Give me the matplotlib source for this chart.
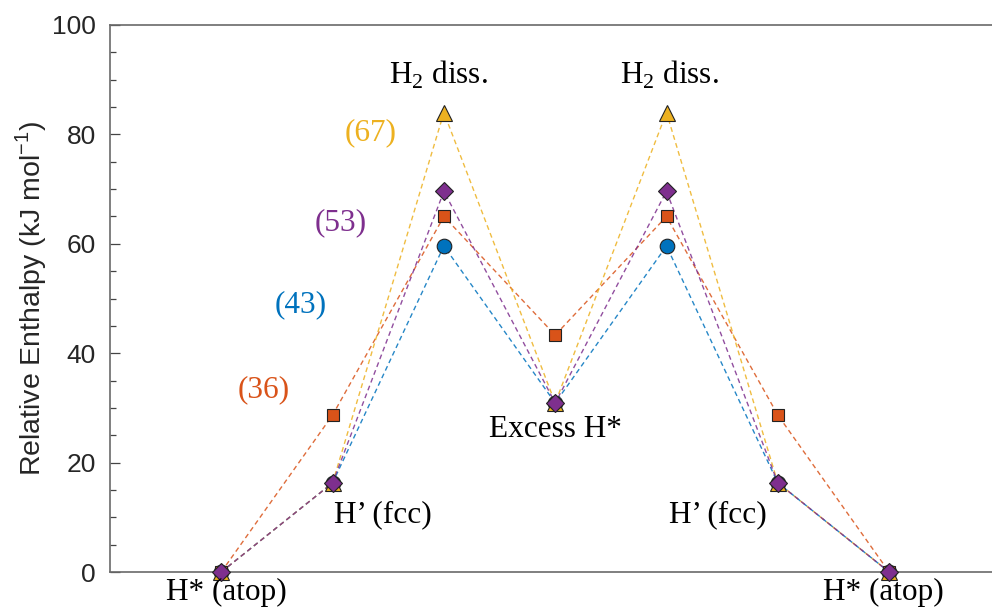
import matplotlib
matplotlib.use("Agg")
import matplotlib.pyplot as plt
from matplotlib.ticker import MultipleLocator

plt.rcParams['mathtext.fontset'] = 'custom'
plt.rcParams['mathtext.rm'] = 'Liberation Serif'
plt.rcParams['mathtext.sf'] = 'Liberation Sans'

# Data
steps = [1, 2, 3, 4, 5, 6, 7]
step_labels = ["H* (atop)", "H\u2019 (fcc)", "H$_2$ diss.", "Excess H*", "H$_2$ diss.", "H\u2019 (fcc)", "H* (atop)"]
series_names = ["(43)", "(36)", "(67)", "(53)"]
blue_43 = [0, 16.3, 59.6, 30.9, 59.6, 16.3, 0]
orange_36 = [0, 28.7, 65.0, 43.3, 65.0, 28.7, 0]
yellow_67 = [0, 16.3, 84.0, 30.9, 84.0, 16.3, 0]
purple_53 = [0, 16.3, 69.6, 30.9, 69.6, 16.3, 0]

colors = {"blue": "#0072BD", "orange": "#D95319", "yellow": "#EDB120", "purple": "#7E2F8E"}

fig = plt.figure(figsize=(9.92, 6.07), dpi=100)
ax = fig.add_axes([110/992, 35/607, (1000.4-110)/992, (572-25)/607])

def plot_series(vals, col, marker, ms):
    ax.plot(steps, vals, linestyle=(0, (3.5, 2.5)), color=col, lw=1.0, alpha=0.85,
            marker=None, zorder=2)
    ax.plot(steps, vals, linestyle='none', marker=marker, markersize=ms,
            markerfacecolor=col, markeredgecolor='#222222', markeredgewidth=0.8,
            zorder=3, clip_on=False)

plot_series(blue_43, colors["blue"], 'o', 10.5)
plot_series(orange_36, colors["orange"], 's', 8)
plot_series(yellow_67, colors["yellow"], '^', 11.5)
plot_series(purple_53, colors["purple"], 'D', 9.5)

ax.set_xlim(0, 8)
ax.set_ylim(0, 100)
ax.set_xticks([])
ax.yaxis.set_major_locator(MultipleLocator(20))
ax.yaxis.set_minor_locator(MultipleLocator(5))
ax.tick_params(axis='y', which='major', direction='in', length=7, width=0.9,
               color='#444444', labelsize=19, labelcolor='#262626', pad=10)
ax.tick_params(axis='y', which='minor', direction='in', length=4, width=0.9, color='#444444')
for s in ['left', 'bottom', 'top', 'right']:
    ax.spines[s].set_color('#6a6a6a')
    ax.spines[s].set_linewidth(1.2)
for lab in ax.get_yticklabels():
    lab.set_fontfamily('Liberation Sans')

ax.set_ylabel("Relative Enthalpy (kJ mol$^{\\mathsf{-1}}$)", fontsize=20.5,
              fontfamily='Liberation Sans', color='#262626', labelpad=2.5)

serif = 'Liberation Serif'
fs = 22.5
label_pos = [(1.05, -3.7), (2.45, 10.4), (2.95, 90.9), (4.0, 26.0), (5.03, 90.9), (5.46, 10.4), (6.95, -3.7)]
for (x, y), t in zip(label_pos, step_labels):
    ax.text(x, y, t, fontsize=fs, fontfamily=serif, ha='center', va='center',
            color='black', clip_on=False, zorder=5)

name_pos = [(1.71, 48.8), (1.38, 33.3), (2.34, 80.3), (2.07, 63.8)]
name_cols = [colors["blue"], colors["orange"], colors["yellow"], colors["purple"]]
for (x, y), t, c in zip(name_pos, series_names, name_cols):
    ax.text(x, y, t, fontsize=fs, fontfamily=serif, ha='center', va='center', color=c)

fig.savefig("out.png", dpi=100)
